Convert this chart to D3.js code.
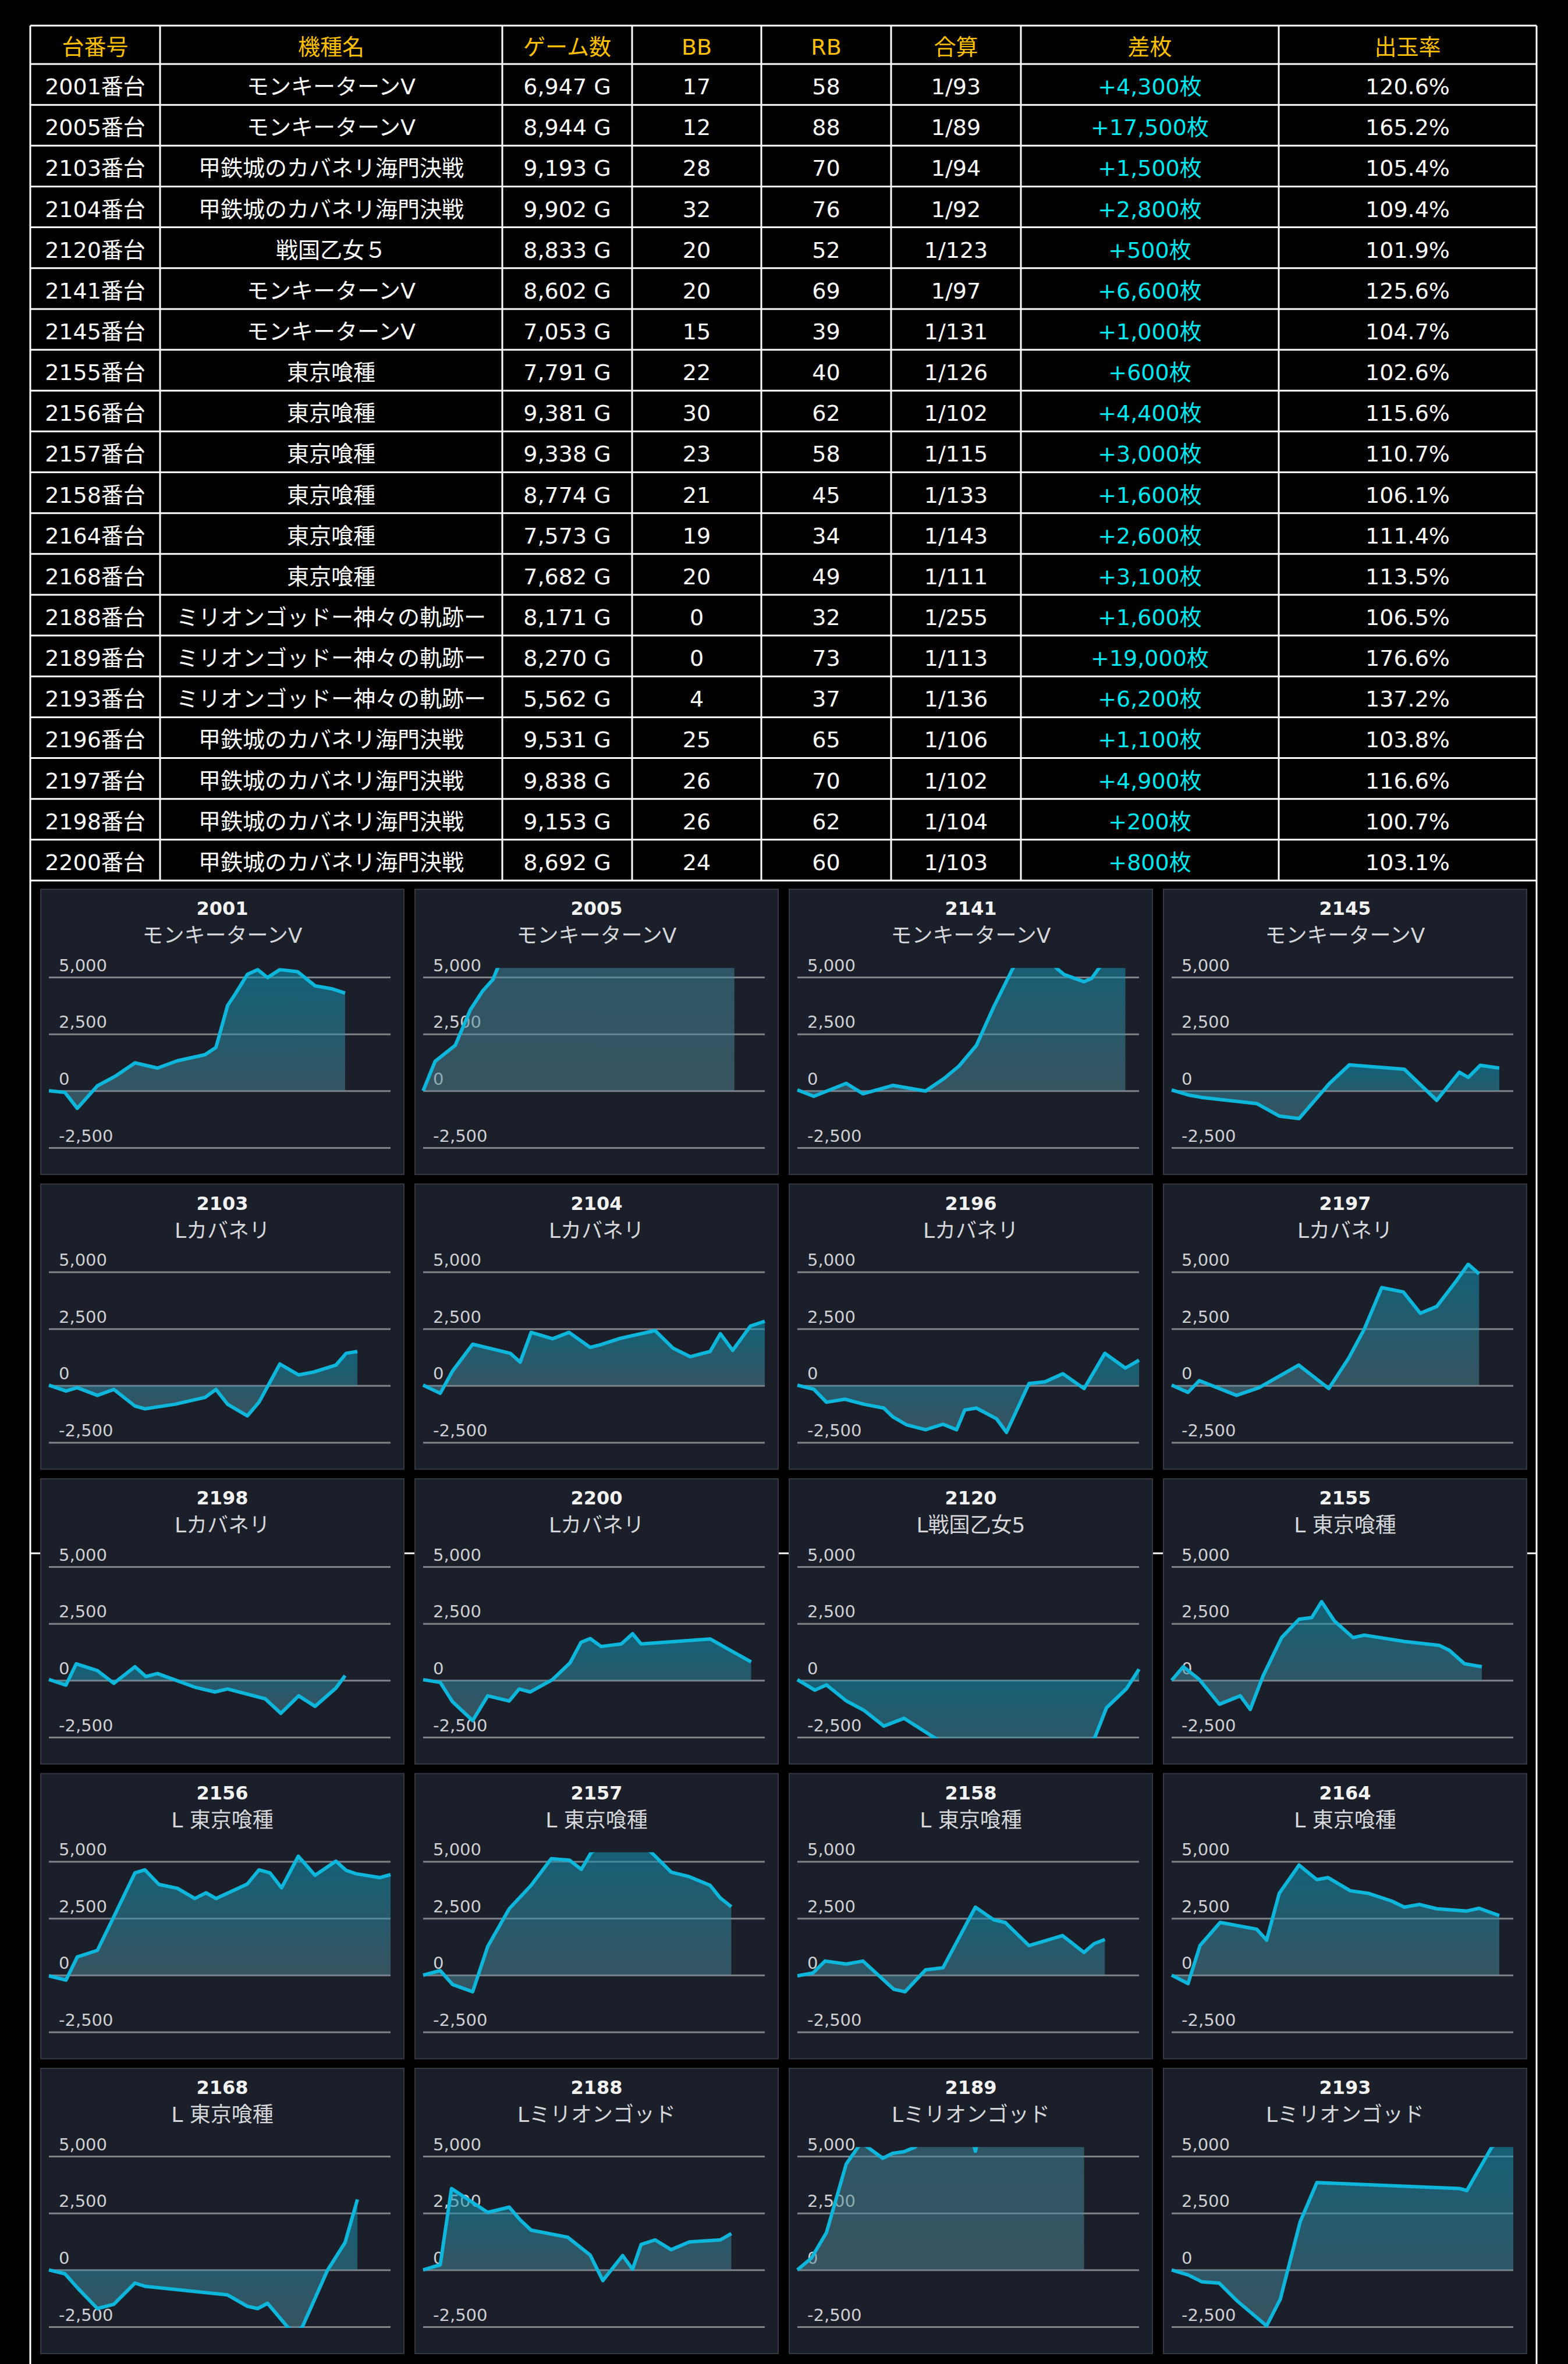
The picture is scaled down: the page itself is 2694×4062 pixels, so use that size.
<!DOCTYPE html>
<html>
<head>
<meta charset="utf-8">
<script src="https://cdn.jsdelivr.net/npm/d3@7"></script>
<style>
  html, body { margin: 0; padding: 0; background: #000; }
  svg { display: block; }
</style>
</head>
<body>
<script>
// ---- table data ----
var headers = ["台番号", "機種名", "ゲーム数", "BB", "RB", "合算", "差枚", "出玉率"];
var machineIds = [2001, 2005, 2103, 2104, 2120, 2141, 2145, 2155, 2156, 2157,
                  2158, 2164, 2168, 2188, 2189, 2193, 2196, 2197, 2198, 2200];
var machineNames = [
  "モンキーターンV", "モンキーターンV", "甲鉄城のカバネリ海門決戦", "甲鉄城のカバネリ海門決戦",
  "戦国乙女５", "モンキーターンV", "モンキーターンV", "東京喰種", "東京喰種", "東京喰種",
  "東京喰種", "東京喰種", "東京喰種", "ミリオンゴッドー神々の軌跡ー", "ミリオンゴッドー神々の軌跡ー",
  "ミリオンゴッドー神々の軌跡ー", "甲鉄城のカバネリ海門決戦", "甲鉄城のカバネリ海門決戦",
  "甲鉄城のカバネリ海門決戦", "甲鉄城のカバネリ海門決戦"
];
var gameCounts = [6947, 8944, 9193, 9902, 8833, 8602, 7053, 7791, 9381, 9338,
                  8774, 7573, 7682, 8171, 8270, 5562, 9531, 9838, 9153, 8692];
var bbCounts = [17, 12, 28, 32, 20, 20, 15, 22, 30, 23, 21, 19, 20, 0, 0, 4, 25, 26, 26, 24];
var rbCounts = [58, 88, 70, 76, 52, 69, 39, 40, 62, 58, 45, 34, 49, 32, 73, 37, 65, 70, 62, 60];
var combinedRates = [93, 89, 94, 92, 123, 97, 131, 126, 102, 115,
                     133, 143, 111, 255, 113, 136, 106, 102, 104, 103];
var diffCoins = [4300, 17500, 1500, 2800, 500, 6600, 1000, 600, 4400, 3000,
                 1600, 2600, 3100, 1600, 19000, 6200, 1100, 4900, 200, 800];
var payoutRates = [120.6, 165.2, 105.4, 109.4, 101.9, 125.6, 104.7, 102.6, 115.6, 110.7,
                   106.1, 111.4, 113.5, 106.5, 176.6, 137.2, 103.8, 116.6, 100.7, 103.1];

// ---- slump graph data ----
var panelIds = [2001, 2005, 2141, 2145, 2103, 2104, 2196, 2197, 2198, 2200,
                2120, 2155, 2156, 2157, 2158, 2164, 2168, 2188, 2189, 2193];
var panelNames = [
  "モンキーターンV", "モンキーターンV", "モンキーターンV", "モンキーターンV",
  "Lカバネリ", "Lカバネリ", "Lカバネリ", "Lカバネリ", "Lカバネリ", "Lカバネリ",
  "L戦国乙女5", "L 東京喰種", "L 東京喰種", "L 東京喰種", "L 東京喰種", "L 東京喰種",
  "L 東京喰種", "Lミリオンゴッド", "Lミリオンゴッド", "Lミリオンゴッド"
];
// [progress (0-100), coins]
var slumpData = [
  [[0,0],[4.7,-70],[8.3,-770],[14.2,220],[19.3,630],[25.2,1230],[31.8,1000],[37.6,1320],[45.7,1590],[48.9,1910],[52.3,3750],[54.5,4250],[58.1,5120],[61.1,5330],[64,4980],[67.6,5330],[72.8,5240],[77.9,4620],[83,4480],[86.7,4300]],
  [[0,0],[3.5,1300],[9.4,2000],[13.8,3560],[17.4,4390],[20.4,4890],[21.8,5400],[30,7800],[45,10600],[60,13200],[75,15600],[91.1,17500]],
  [[0,40],[4.8,-240],[14.3,330],[19.2,-130],[28,240],[37.5,-10],[42.9,540],[47.3,1090],[52.4,2000],[57.5,3700],[63.1,5400],[68,6300],[72,6100],[75.8,5400],[78,5120],[83.9,4800],[86.1,4940],[88.3,5400],[96,6600]],
  [[0,40],[5.1,-190],[8.8,-290],[24.9,-560],[31.5,-1110],[37.3,-1220],[46.1,310],[52,1140],[68.1,950],[77.6,-420],[84.2,820],[86.8,590],[90.3,1120],[95.9,1000]],
  [[0,20],[5,-240],[8.3,-90],[14.2,-430],[19,-170],[25.2,-900],[28.1,-1020],[36.9,-820],[45.7,-520],[48.9,-170],[52.3,-820],[58.1,-1330],[61.5,-730],[67.6,950],[73.1,470],[77.6,600],[84,900],[87,1420],[90.3,1500]],
  [[0,20],[5,-340],[8.6,640],[14.5,1820],[25.5,1420],[28.4,1030],[31.6,2340],[37.9,2060],[42.7,2340],[48.9,1680],[51.8,1790],[57.7,2080],[67.9,2420],[73.1,1650],[78.2,1270],[84,1500],[87,2280],[90.6,1550],[95.8,2620],[100,2830]],
  [[0,20],[4.8,-160],[8.5,-730],[13.9,-600],[19.5,-820],[25.3,-990],[27.9,-1370],[31.9,-1720],[37.5,-1940],[42.6,-1700],[46.6,-1940],[49,-1070],[52.4,-990],[58.3,-1460],[61.2,-2060],[67.8,90],[72.5,170],[77.7,520],[83.9,-130],[90,1420],[96,770],[100,1120]],
  [[0,20],[4.8,-300],[8.1,220],[19,-430],[25.6,-90],[37.2,900],[46,-130],[51.8,1200],[56.4,2490],[61.5,4310],[67.8,4120],[72.8,3180],[77.6,3480],[83.5,4640],[86.8,5340],[90,4910]],
  [[0,40],[5,-210],[8,730],[14.2,430],[19,-130],[25.2,600],[28.4,170],[31.8,300],[42.7,-300],[48.6,-510],[52.3,-380],[63.3,-810],[67.9,-1450],[73.1,-680],[77.9,-1140],[84,-340],[86.7,210]],
  [[0,30],[5,-90],[8.6,-940],[14.5,-1770],[18.9,-680],[25.2,-910],[28.1,-380],[31.3,-510],[37.9,40],[43,770],[46.2,1670],[48.9,1840],[52.1,1490],[58,1600],[61.3,2050],[63.8,1600],[84,1820],[96,810]],
  [[0,30],[5.1,-430],[8.5,-200],[14.3,-900],[19.5,-1320],[25.3,-2010],[31.2,-1670],[39.9,-2500],[50,-3400],[65,-4200],[80,-3600],[87.1,-2500],[90.5,-1200],[96.3,-370],[100,490]],
  [[0,0],[3.4,600],[8.1,40],[14,-1050],[20.1,-680],[23,-1280],[26.8,210],[32.2,1880],[37.3,2690],[41,2760],[43.9,3460],[47.6,2620],[53.1,1880],[56.4,1990],[68.1,1710],[78.3,1540],[81.3,1320],[85.7,730],[90.8,600]],
  [[0,-30],[5,-220],[8.3,800],[14.2,1090],[19.3,2660],[25.2,4500],[28.1,4630],[32.2,3990],[37.6,3820],[42.7,3370],[46,3620],[48.9,3370],[58.1,4010],[61.5,4630],[64.7,4500],[68.1,3840],[73,5230],[77.9,4390],[84,5010],[87,4610],[89.9,4460],[96.9,4290],[100,4420]],
  [[0,0],[5,200],[8.6,-410],[14.5,-730],[18.9,1260],[25.2,2920],[31.6,3950],[37.5,5120],[42.8,5060],[46.3,4650],[49.2,5400],[55,5900],[61,6000],[66.8,5400],[72.6,4530],[77.9,4330],[84,3950],[87,3390],[90.2,3010]],
  [[0,-30],[4.5,90],[8.1,620],[14.3,490],[19.2,620],[28.2,-620],[31.5,-730],[37.5,230],[42.6,320],[52.1,2990],[57.5,2430],[60.8,2320],[67.8,1300],[77.6,1740],[83.9,1000],[86.8,1380],[90,1570]],
  [[0,0],[4.8,-370],[8.3,1300],[14.2,2320],[24.9,2020],[27.8,1540],[31.5,3600],[37.3,4840],[42.5,4200],[45.8,4290],[52.3,3710],[57.5,3600],[64.4,3260],[68.1,2990],[72.5,3110],[77.6,2920],[86.4,2820],[90,2940],[95.9,2620]],
  [[0,0],[4.7,-170],[8.8,-860],[14.2,-1700],[19,-1510],[25.2,-580],[28.1,-720],[52.3,-1100],[58.1,-1600],[61.1,-1700],[64,-1470],[69.8,-2500],[72,-2800],[74.2,-2500],[81.6,0],[86.7,1210],[90.3,3100]],
  [[0,0],[2.8,130],[5,220],[8.3,3580],[18.9,2530],[25.2,2760],[28.4,2200],[31.6,1750],[42.3,1440],[48.9,650],[52.6,-470],[58.4,630],[61.3,30],[63.8,1120],[67.9,1320],[72.6,890],[77.9,1230],[87,1320],[90.2,1600]],
  [[0,0],[4.1,520],[8.5,1640],[14.3,4660],[18.7,5600],[25,4910],[27.9,5130],[31.2,5200],[34.4,5400],[42,6400],[51.3,5700],[52.1,5220],[52.9,5700],[65,10000],[75,14500],[83.9,19000]],
  [[0,0],[4.8,-220],[8.8,-520],[13.9,-580],[19,-1340],[27.8,-2460],[31.8,-1290],[37.6,2110],[42.5,3840],[84.2,3580],[86.4,3490],[93.7,5400],[100,6200]]
];
var yTicks = [5000, 2500, 0, -2500];

// ---- layout ----
var W = 2694, H = 4062;
var colEdges = [52, 275, 863, 1086, 1308, 1531, 1754, 2197, 2640];
var tableTop = 44, headerBottom = 110, tableBottom = 1513;
var panelW = 624, panelH = 490;
var panelX0 = 70, panelDX = 643;
var panelY0 = 1528, panelDY = 506.5;

var svg = d3.select("body").append("svg")
  .attr("width", W)
  .attr("height", H)
  .style("background-color", "#000");

// plain hyphen for negatives, like the original
var fmt = d3.formatLocale({ decimal: ".", thousands: ",", grouping: [3], currency: ["", ""], minus: "-" }).format(",");

// frame lines that run behind the graph panels
var frame = svg.append("g").attr("stroke", "#fff").attr("stroke-width", 3);
frame.append("line").attr("x1", colEdges[0]).attr("x2", colEdges[0]).attr("y1", tableBottom).attr("y2", H);
frame.append("line").attr("x1", colEdges[8]).attr("x2", colEdges[8]).attr("y1", tableBottom).attr("y2", H);
frame.append("line").attr("x1", colEdges[0]).attr("x2", colEdges[8]).attr("y1", 2669).attr("y2", 2669);

// ---- table ----
var rowBand = d3.scaleBand()
  .domain(d3.range(machineIds.length))
  .range([headerBottom, tableBottom]);

var table = svg.append("g")
  .attr("font-family", "'DejaVu Sans', 'Noto Sans CJK JP', sans-serif")
  .attr("font-size", 38)
  .attr("text-anchor", "middle");

var colCenter = function(c) { return (colEdges[c] + colEdges[c + 1]) / 2; };

table.selectAll("text.head")
  .data(headers)
  .enter().append("text")
  .attr("class", "head")
  .attr("x", function(d, i) { return colCenter(i); })
  .attr("y", (tableTop + headerBottom) / 2 + 17)
  .attr("fill", "#ffc000")
  .text(function(d) { return d; });

var rows = machineIds.map(function(id, i) {
  return [
    id + "番台",
    machineNames[i],
    fmt(gameCounts[i]) + " G",
    bbCounts[i],
    rbCounts[i],
    "1/" + combinedRates[i],
    "+" + fmt(diffCoins[i]) + "枚",
    payoutRates[i].toFixed(1) + "%"
  ];
});

var rowG = table.selectAll("g.row")
  .data(rows)
  .enter().append("g")
  .attr("class", "row")
  .attr("transform", function(d, i) {
    return "translate(0," + (rowBand(i) + rowBand.bandwidth() / 2 + 17) + ")";
  });

rowG.selectAll("text")
  .data(function(d) { return d; })
  .enter().append("text")
  .attr("x", function(d, i) { return colCenter(i); })
  .attr("fill", function(d, i) { return i === 6 ? "#00e8f0" : "#fff"; })
  .text(function(d) { return d; });

var grid = svg.append("g").attr("stroke", "#fff").attr("stroke-width", 3);
var hLines = [tableTop, headerBottom].concat(d3.range(1, machineIds.length + 1).map(function(i) {
  return rowBand(i - 1) + rowBand.bandwidth();
}));
grid.selectAll("line.h")
  .data(hLines)
  .enter().append("line")
  .attr("x1", colEdges[0]).attr("x2", colEdges[8])
  .attr("y1", function(d) { return d; }).attr("y2", function(d) { return d; });
grid.selectAll("line.v")
  .data(colEdges)
  .enter().append("line")
  .attr("y1", tableTop).attr("y2", tableBottom)
  .attr("x1", function(d) { return d; }).attr("x2", function(d) { return d; });

// ---- graph panels ----
var defs = svg.append("defs");
var grad = defs.append("linearGradient")
  .attr("id", "areaFill")
  .attr("x1", 0).attr("y1", 0).attr("x2", 0).attr("y2", 1);
grad.append("stop").attr("offset", "0%").attr("stop-color", "rgb(10,150,182)").attr("stop-opacity", 0.55);
grad.append("stop").attr("offset", "100%").attr("stop-color", "rgb(85,135,150)").attr("stop-opacity", 0.5);

var plotL = 14, plotR = 601;
var x = d3.scaleLinear().domain([0, 100]).range([plotL, plotR]);
var y = d3.scaleLinear().domain([-2500, 5000]).range([444, 151]);

var area = d3.area()
  .x(function(d) { return x(d[0]); })
  .y0(y(0))
  .y1(function(d) { return y(d[1]); });
var line = d3.line()
  .x(function(d) { return x(d[0]); })
  .y(function(d) { return y(d[1]); });

defs.append("clipPath").attr("id", "plotClip")
  .append("rect")
  .attr("x", 0).attr("width", panelW)
  .attr("y", y(5400)).attr("height", y(-2500) - y(5400) + 2);

var panels = svg.selectAll("g.panel")
  .data(panelIds)
  .enter().append("g")
  .attr("class", "panel")
  .attr("transform", function(d, i) {
    return "translate(" + (panelX0 + (i % 4) * panelDX) + "," + (panelY0 + Math.floor(i / 4) * panelDY) + ")";
  });

panels.append("rect")
  .attr("width", panelW)
  .attr("height", panelH)
  .attr("fill", "#1b1f2a")
  .attr("stroke", "#343842")
  .attr("stroke-width", 2);

panels.append("text")
  .attr("x", panelW / 2)
  .attr("y", 44)
  .attr("text-anchor", "middle")
  .attr("font-family", "'DejaVu Sans', sans-serif")
  .attr("font-weight", "bold")
  .attr("font-size", 32)
  .attr("fill", "#f2f2f2")
  .text(function(d) { return d; });

panels.append("text")
  .attr("x", panelW / 2)
  .attr("y", 92)
  .attr("text-anchor", "middle")
  .attr("font-family", "'DejaVu Sans', 'Noto Sans CJK JP', sans-serif")
  .attr("font-size", 36)
  .attr("fill", "#d6d7da")
  .text(function(d, i) { return panelNames[i]; });

panels.each(function(d, i) {
  var g = d3.select(this);
  var ag = g.append("g")
    .attr("transform", "translate(" + plotL + ",0)")
    .call(d3.axisRight(y).tickValues(yTicks).tickSize(plotR - plotL).tickFormat(fmt));
  ag.select(".domain").remove();
  ag.attr("font-family", "'DejaVu Sans', sans-serif").attr("font-size", 29);
  ag.selectAll(".tick line").attr("stroke", "#80838a").attr("stroke-width", 3);
  ag.selectAll(".tick text")
    .attr("x", 17)
    .attr("y", -11)
    .attr("dy", null)
    .attr("fill", "#cfd0d3");

  var plot = g.append("g").attr("clip-path", "url(#plotClip)");
  plot.append("path")
    .datum(slumpData[i])
    .attr("d", area)
    .attr("fill", "url(#areaFill)");
  plot.append("path")
    .datum(slumpData[i])
    .attr("d", line)
    .attr("fill", "none")
    .attr("stroke", "#0db6da")
    .attr("stroke-width", 6)
    .attr("stroke-linejoin", "round");
});
</script>
</body>
</html>
